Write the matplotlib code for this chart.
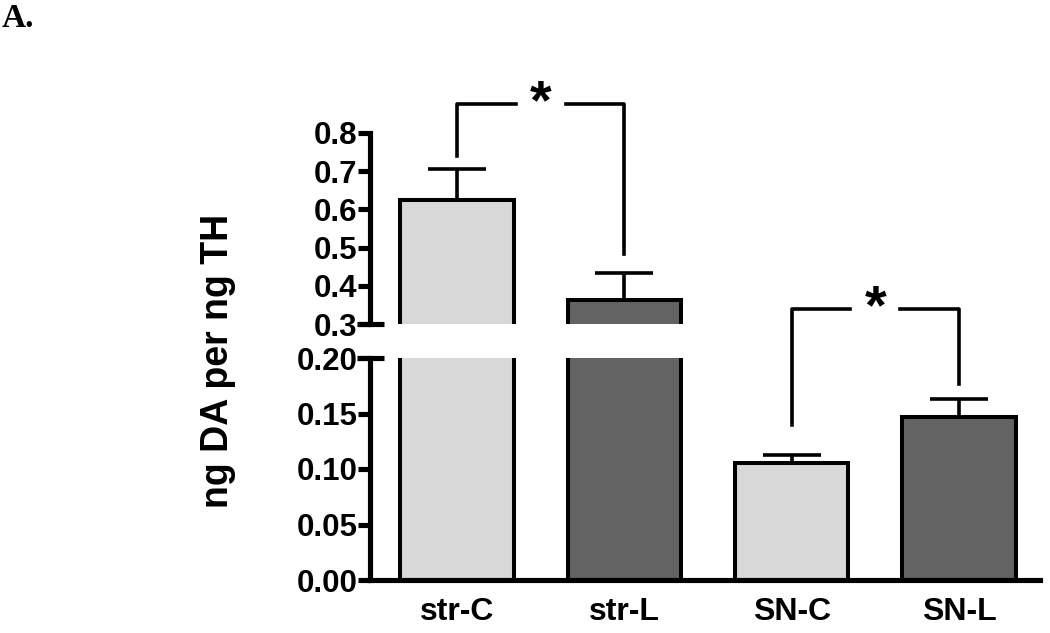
import matplotlib
matplotlib.use("Agg")
import matplotlib.pyplot as plt
import numpy as np

categories = ["str-C", "str-L", "SN-C", "SN-L"]
means = [0.625, 0.362, 0.105, 0.147]
sems = [0.082, 0.072, 0.008, 0.016]
colors = ["#d8d8d8", "#636363", "#d8d8d8", "#636363"]
upper_ticks = [0.3, 0.4, 0.5, 0.6, 0.7, 0.8]
lower_ticks = [0.00, 0.05, 0.10, 0.15, 0.20]
ylabel = "ng DA per ng TH"
# significance brackets: (left bar, right bar, height, left leg end, right leg end)
bracket_top = (0, 1, 0.876, 0.74, 0.483)
bracket_bottom = (2, 3, 0.244, 0.14, 0.177)

plt.rcParams['font.family'] = ['Liberation Sans', 'DejaVu Sans']
plt.rcParams['font.weight'] = 'bold'

fig = plt.figure(figsize=(10.5, 6.33), dpi=100)
L, W = 370/1050, 670/1050
ax_lo = fig.add_axes([L, 53/633, W, 222/633])
ax_hi = fig.add_axes([L, 309/633, W, 191/633])
ax_lo.set_zorder(3)
ax_lo.patch.set_visible(False)

x = np.arange(len(categories))
bw = 0.68
lw_edge = 2.9
lw_line = 2.6
lw_spine = 3.7
for ax in (ax_lo, ax_hi):
    ax.bar(x, means, width=bw, color=colors, edgecolor="black", linewidth=lw_edge, zorder=2)
    ax.errorbar(x, means, yerr=[np.zeros(len(sems)), sems], fmt="none", ecolor="black",
                elinewidth=lw_line, capsize=21, capthick=lw_line, zorder=1)
    ax.set_xlim(-0.521, 3.485)
    for s in ("top", "right"):
        ax.spines[s].set_visible(False)
    ax.spines["left"].set_linewidth(lw_spine)
    ax.tick_params(axis="y", direction="out", length=9, width=lw_spine, labelsize=22.5, pad=0)

ax_lo.set_ylim(0, 0.2)
ax_lo.set_yticks(lower_ticks)
ax_lo.set_yticklabels([f"{v:.2f}" for v in lower_ticks])
ax_lo.spines["bottom"].set_linewidth(lw_spine)
ax_lo.set_xticks(x)
ax_lo.set_xticklabels(categories, fontsize=23)
ax_lo.tick_params(axis="x", length=0, pad=12)

ax_hi.set_ylim(0.3, 0.8)
ax_hi.set_yticks(upper_ticks)
ax_hi.set_yticklabels([f"{v:.1f}" for v in upper_ticks])
ax_hi.spines["bottom"].set_visible(False)
ax_hi.set_xticks([])

# break caps
ax_hi.plot([-0.019, 0.021], [0, 0], color="black", lw=lw_spine, transform=ax_hi.transAxes, clip_on=False, solid_capstyle="butt")
ax_lo.plot([-0.019, 0.021], [1, 1], color="black", lw=lw_spine, transform=ax_lo.transAxes, clip_on=False, solid_capstyle="butt")

def bracket(ax, b):
    i, j, h, yl, yr = b
    gap = 0.15
    mid = (x[i] + x[j]) / 2
    ax.plot([x[i], x[i], mid - gap], [yl, h, h], color="black", lw=lw_line, clip_on=False, zorder=5)
    ax.plot([mid + gap, x[j], x[j]], [h, h, yr], color="black", lw=lw_line, clip_on=False, zorder=5)
    ax.text(mid, h, "*", ha="center", va="center", fontsize=40, fontweight="bold", clip_on=False, zorder=5)

bracket(ax_hi, bracket_top)
bracket(ax_lo, bracket_bottom)

fig.text(218/1050, (633-361)/633, ylabel, rotation=90, ha="center", va="center", fontsize=27, fontweight="bold")
fig.text(0.002, 0.995, "A.", ha="left", va="top", fontsize=24, fontweight="bold", family=["Liberation Serif"])

fig.savefig("out.png", dpi=100)
